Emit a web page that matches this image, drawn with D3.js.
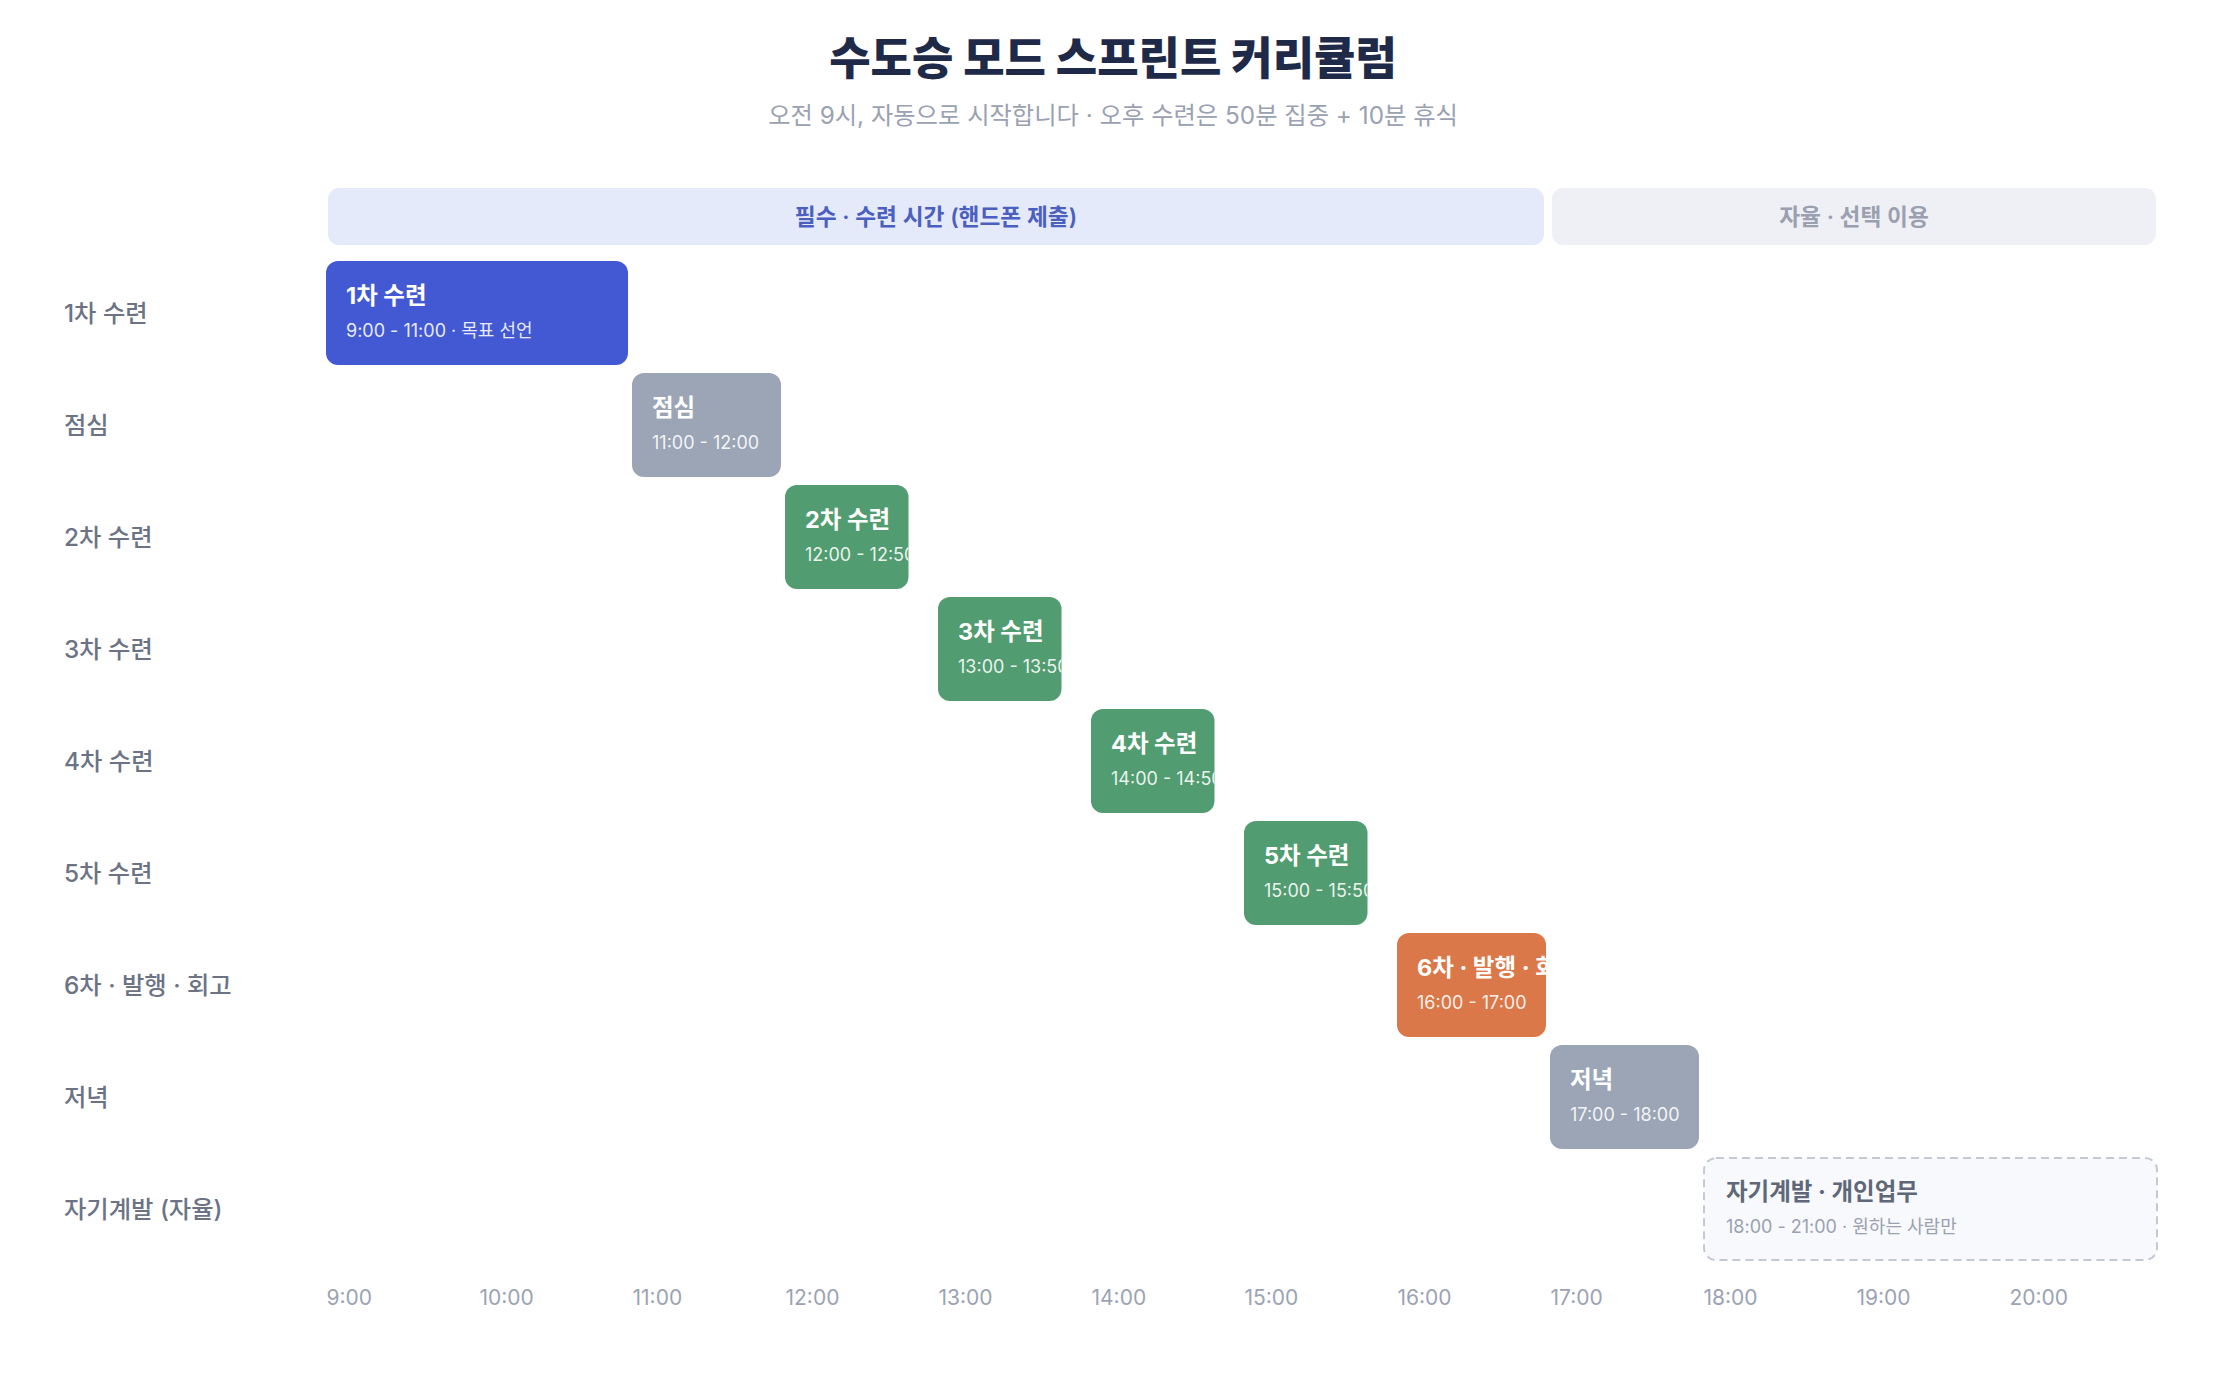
<!DOCTYPE html>
<html>
<head>
<meta charset="utf-8">
<script src="https://cdn.jsdelivr.net/npm/d3@7"></script>
<style>
  body { margin: 0; background: #fff; }
  svg text { font-family: "Inter", "Noto Sans CJK KR", sans-serif; }
</style>
</head>
<body>
<script>
// ---- data ----
rows = ["1차 수련", "점심", "2차 수련", "3차 수련", "4차 수련", "5차 수련", "6차 · 발행 · 회고", "저녁", "자기계발 (자율)"]
titles = ["1차 수련", "점심", "2차 수련", "3차 수련", "4차 수련", "5차 수련", "6차 · 발행 · 회고", "저녁", "자기계발 · 개인업무"]
starts = ["9:00", "11:00", "12:00", "13:00", "14:00", "15:00", "16:00", "17:00", "18:00"]
ends = ["11:00", "12:00", "12:50", "13:50", "14:50", "15:50", "17:00", "18:00", "21:00"]
notes = ["목표 선언", "", "", "", "", "", "", "", "원하는 사람만"]
kinds = ["focus", "meal", "practice", "practice", "practice", "practice", "publish", "meal", "optional"]

tickLabels = ["9:00", "10:00", "11:00", "12:00", "13:00", "14:00", "15:00", "16:00", "17:00", "18:00", "19:00", "20:00"]

bandNames = ["필수 · 수련 시간 (핸드폰 제출)", "자율 · 선택 이용"]
bandStarts = ["9:00", "17:00"]
bandEnds = ["17:00", "21:00"]
bandKinds = ["required", "free"]

// ---- setup ----
width = 2236
height = 1386

colors = {focus: "#4359d4", meal: "#9ca5b6", practice: "#529c71", publish: "#db7849"}

function mins(s) {
    var p = s.split(":");
    return +p[0]*60 + +p[1];
}

x = d3.scaleLinear()
    .domain([mins("9:00"), mins("21:00")])
    .range([326, 2162])

y = d3.scaleBand()
    .domain(rows)
    .range([257, 257 + 9*112])
    .paddingInner(0.0714)
    .paddingOuter(0.0357)

data = rows.map(function(r, i) {
    return {row: r, title: titles[i], s: starts[i], e: ends[i], note: notes[i], kind: kinds[i]};
})

svg = d3.select("body")
    .append("svg")
    .attr("width", width)
    .attr("height", height)

// title
svg.append("text")
    .attr("x", 1113)
    .attr("y", 58)
    .attr("text-anchor", "middle")
    .attr("dominant-baseline", "central")
    .attr("font-size", 45)
    .attr("font-weight", 800)
    .attr("fill", "#1f2a48")
    .text("수도승 모드 스프린트 커리큘럼")

svg.append("text")
    .attr("x", 1113)
    .attr("y", 115)
    .attr("text-anchor", "middle")
    .attr("dominant-baseline", "central")
    .attr("font-size", 24.3)
    .attr("fill", "#9aa1b2")
    .text("오전 9시, 자동으로 시작합니다 · 오후 수련은 50분 집중 + 10분 휴식")

// phase bands
bands = bandNames.map(function(n, i) {
    return {name: n, s: bandStarts[i], e: bandEnds[i], kind: bandKinds[i]};
})

bandG = svg.selectAll("g.band")
    .data(bands)
    .enter()
    .append("g")
    .attr("class", "band")

bandG.append("rect")
    .attr("x", function(d) { return x(mins(d.s)) + 2; })
    .attr("y", 188)
    .attr("width", function(d) { return x(mins(d.e)) - x(mins(d.s)) - 8; })
    .attr("height", 57)
    .attr("rx", 11)
    .attr("fill", function(d) { return d.kind == "required" ? "#e4eafa" : "#eff0f5"; })

bandG.append("text")
    .attr("x", function(d) { return (x(mins(d.s)) + 2 + x(mins(d.e)) - 6) / 2; })
    .attr("y", 216)
    .attr("text-anchor", "middle")
    .attr("dominant-baseline", "central")
    .attr("font-size", 22.7)
    .attr("font-weight", 600)
    .attr("fill", function(d) { return d.kind == "required" ? "#4b5fc0" : "#9aa0b0"; })
    .text(function(d) { return d.name; })

// row labels
svg.selectAll("text.rowlabel")
    .data(rows)
    .enter()
    .append("text")
    .attr("class", "rowlabel")
    .attr("x", 64)
    .attr("y", function(d) { return y(d) + y.bandwidth()/2; })
    .attr("dominant-baseline", "central")
    .attr("font-size", 24.3)
    .attr("font-weight", 500)
    .attr("fill", "#6b7385")
    .text(function(d) { return d; })

// blocks
defs = svg.append("defs")
defs.selectAll("clipPath")
    .data(data)
    .enter()
    .append("clipPath")
    .attr("id", function(d, i) { return "clip" + i; })
    .append("rect")
    .attr("x", function(d) { return x(mins(d.s)); })
    .attr("y", function(d) { return y(d.row); })
    .attr("width", function(d) { return x(mins(d.e)) - x(mins(d.s)) - 4; })
    .attr("height", y.bandwidth())

blocks = svg.selectAll("g.block")
    .data(data)
    .enter()
    .append("g")
    .attr("class", "block")

blocks.append("rect")
    .attr("x", function(d) { return d.kind == "optional" ? x(mins(d.s)) + 1 : x(mins(d.s)); })
    .attr("y", function(d) { return d.kind == "optional" ? y(d.row) + 1 : y(d.row); })
    .attr("width", function(d) { return x(mins(d.e)) - x(mins(d.s)) - (d.kind == "optional" ? 6 : 4); })
    .attr("height", function(d) { return d.kind == "optional" ? y.bandwidth() - 2 : y.bandwidth(); })
    .attr("rx", 12)
    .attr("fill", function(d) { return d.kind == "optional" ? "#f8f9fc" : colors[d.kind]; })
    .attr("stroke", function(d) { return d.kind == "optional" ? "#c3cad6" : "none"; })
    .attr("stroke-width", 2)
    .attr("stroke-dasharray", function(d) { return d.kind == "optional" ? "8,5" : null; })

blocks.append("text")
    .attr("clip-path", function(d, i) { return "url(#clip" + i + ")"; })
    .attr("x", function(d) { return x(mins(d.s)) + (d.kind == "optional" ? 23 : 20); })
    .attr("y", function(d) { return y(d.row) + 35; })
    .attr("dominant-baseline", "central")
    .attr("font-size", 23.5)
    .attr("font-weight", 700)
    .attr("fill", function(d) { return d.kind == "optional" ? "#5f6878" : "#fff"; })
    .text(function(d) { return d.title; })

blocks.append("text")
    .attr("clip-path", function(d, i) { return "url(#clip" + i + ")"; })
    .attr("x", function(d) { return x(mins(d.s)) + (d.kind == "optional" ? 23 : 20); })
    .attr("y", function(d) { return y(d.row) + 70; })
    .attr("dominant-baseline", "central")
    .attr("font-size", 18)
    .attr("fill", function(d) { return d.kind == "optional" ? "#9aa1b0" : "#fff"; })
    .attr("fill-opacity", function(d) { return d.kind == "optional" ? 1 : 0.9; })
    .text(function(d) { return d.s + " - " + d.e + (d.note ? " · " + d.note : ""); })

// time axis
axis = d3.axisBottom(x)
    .tickValues(tickLabels.map(mins))
    .tickFormat(function(d, i) { return tickLabels[i]; })
    .tickSize(0)
    .tickPadding(0)

axisG = svg.append("g")
    .attr("transform", "translate(0,1297)")
    .call(axis)

axisG.select(".domain").remove()
axisG.selectAll("text")
    .attr("text-anchor", "start")
    .attr("dy", null)
    .attr("y", 0)
    .attr("dominant-baseline", "central")
    .attr("font-size", 21)
    .attr("font-family", null)
    .attr("fill", "#9ba3b4")
</script>
</body>
</html>
